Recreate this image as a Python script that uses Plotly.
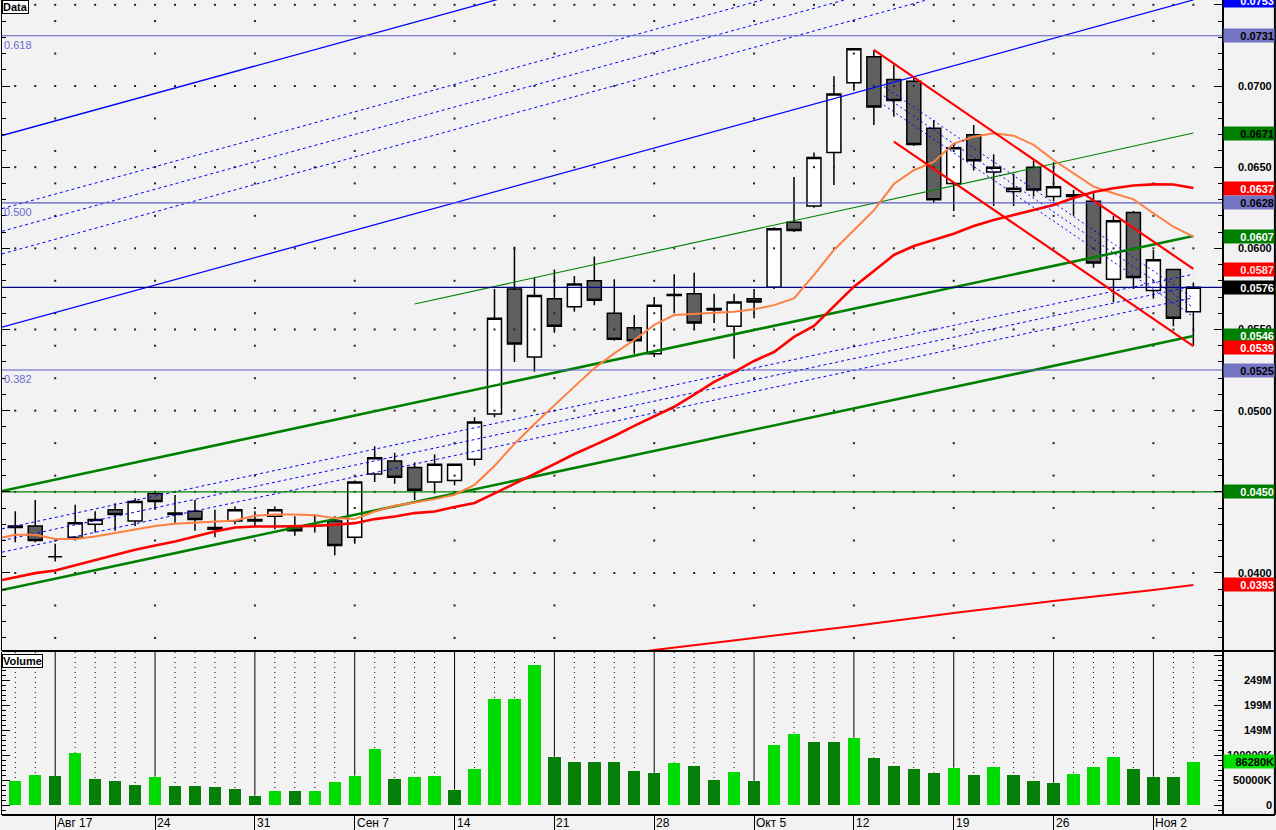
import numpy as np
import plotly.graph_objects as go

# ---------------- data ----------------
opens = [0.0429, 0.0429, 0.0410, 0.0422, 0.0430, 0.0439, 0.0432, 0.0449, 0.0437, 0.0438,
         0.0427, 0.0432, 0.0432, 0.0435, 0.0428, 0.0429, 0.0432, 0.0422, 0.0461, 0.0469,
         0.0465, 0.0456, 0.0457, 0.0470, 0.0498, 0.0575, 0.0533, 0.0569, 0.0564, 0.0580,
         0.0560, 0.0551, 0.0535, 0.05715, 0.0572, 0.0563, 0.0552, 0.0569, 0.0576, 0.0616,
         0.0626, 0.0659, 0.0702, 0.0718, 0.0704, 0.0703, 0.0674, 0.0640, 0.0670, 0.0647,
         0.0635, 0.0650, 0.0632, 0.0633, 0.0629, 0.0581, 0.0622, 0.0574, 0.0587, 0.0561]
highs = [0.0438, 0.0445, 0.0418, 0.0442, 0.0438, 0.0443, 0.0446, 0.0450, 0.0448, 0.0445,
         0.0439, 0.0441, 0.0438, 0.0441, 0.0435, 0.0436, 0.0435, 0.0457, 0.0478, 0.0474,
         0.0468, 0.0473, 0.0467, 0.0496, 0.0575, 0.0601, 0.0582, 0.0587, 0.0583, 0.0595,
         0.0581, 0.0559, 0.0570, 0.0584, 0.0585, 0.0572, 0.0572, 0.0575, 0.0613, 0.0644,
         0.0659, 0.0706, 0.0723, 0.0722, 0.0713, 0.0706, 0.0679, 0.0664, 0.0676, 0.0658,
         0.0646, 0.0654, 0.0653, 0.0636, 0.0634, 0.0620, 0.0623, 0.0599, 0.0587, 0.0579]
lows = [0.0419, 0.0419, 0.0407, 0.0420, 0.0425, 0.0426, 0.0429, 0.0439, 0.0431, 0.0426,
        0.0422, 0.0430, 0.0429, 0.0427, 0.0423, 0.0425, 0.0411, 0.0418, 0.0456, 0.0455,
        0.0445, 0.0449, 0.0454, 0.0466, 0.0496, 0.0530, 0.0524, 0.0548, 0.0561, 0.0565,
        0.0543, 0.0535, 0.0533, 0.0560, 0.0550, 0.0554, 0.0532, 0.0557, 0.0575, 0.0610,
        0.0625, 0.0639, 0.0697, 0.0676, 0.0681, 0.0663, 0.0628, 0.0623, 0.0648, 0.0626,
        0.0626, 0.0632, 0.0629, 0.0620, 0.0588, 0.0567, 0.0575, 0.0569, 0.0552, 0.0540]
closes = [0.0428, 0.0420, 0.0410, 0.0431, 0.0433, 0.0436, 0.0444, 0.0444, 0.0436, 0.0433,
          0.0428, 0.0439, 0.0433, 0.0439, 0.0426, 0.0429, 0.0417, 0.0456, 0.0471, 0.0459,
          0.0451, 0.0467, 0.0467, 0.0493, 0.0557, 0.0541, 0.0571, 0.0552, 0.0578, 0.0568,
          0.0544, 0.0543, 0.0565, 0.0571, 0.0554, 0.0562, 0.0567, 0.0567, 0.0612, 0.0611,
          0.0656, 0.0695, 0.0723, 0.0687, 0.0691, 0.0664, 0.0630, 0.0662, 0.0654, 0.0650,
          0.0637, 0.0636, 0.0638, 0.0632, 0.0591, 0.0617, 0.0582, 0.0593, 0.0557, 0.0576]

volume_m = [48.7, 60.7, 58.0, 104.7, 52.7, 48.7, 40.7, 56.7, 38.7, 38.7,
            36.7, 32.7, 18.7, 28.7, 28.7, 28.7, 46.7, 58.7, 112.7, 52.7,
            56.7, 58.7, 30.7, 72.7, 212.7, 212.7, 280.7, 96.7, 86.7, 86.7,
            86.7, 68.7, 64.7, 84.7, 78.7, 50.7, 66.7, 48.7, 120.7, 142.7,
            126.7, 126.7, 134.7, 94.7, 78.7, 72.7, 64.7, 74.7, 60.7, 76.7,
            60.7, 48.7, 44.7, 62.7, 76.7, 96.7, 72.7, 56.7, 56.7, 86.28]
volume_up = [1, 1, 0, 1, 0, 0, 0, 1, 0, 0, 0, 0, 0, 1, 0, 1, 1, 1, 1, 0,
             1, 1, 0, 1, 1, 1, 1, 0, 0, 0, 0, 0, 0, 1, 0, 0, 1, 0, 1, 1,
             0, 0, 1, 0, 0, 0, 0, 1, 0, 1, 0, 0, 0, 1, 1, 1, 0, 0, 0, 1]

# moving averages: first value is where each line enters at the left edge
ma_x = [-0.665] + list(range(60))
ma_fast = [0.04218,
           0.04235, 0.04235, 0.04209, 0.04209, 0.04225, 0.04246, 0.04266, 0.0429, 0.04303, 0.04311,
           0.04317, 0.04323, 0.04352, 0.0436, 0.0436, 0.04356, 0.04338, 0.04332, 0.04379, 0.04414,
           0.04434, 0.04455, 0.04482, 0.04543, 0.04659, 0.04795, 0.04918, 0.05035, 0.05148, 0.05261,
           0.05353, 0.05435, 0.05528, 0.05589, 0.05596, 0.05599, 0.0561, 0.05624, 0.0565, 0.05692,
           0.05836, 0.0599, 0.06111, 0.06234, 0.06396, 0.06481, 0.06532, 0.06645, 0.06688, 0.06709,
           0.06694, 0.06637, 0.06544, 0.06462, 0.0638, 0.06339, 0.06302, 0.06216, 0.06133, 0.06072]
ma_slow = [0.03957,
           0.03975, 0.03999, 0.04015, 0.04046, 0.04077, 0.04108, 0.04143, 0.04169, 0.04194, 0.04225,
           0.04255, 0.0428, 0.04286, 0.04286, 0.04286, 0.0429, 0.04297, 0.04307, 0.04332, 0.04348,
           0.04369, 0.04379, 0.04406, 0.04431, 0.0449, 0.04548, 0.0461, 0.04671, 0.04733, 0.04788,
           0.04844, 0.04906, 0.04967, 0.05024, 0.05099, 0.05177, 0.05238, 0.05306, 0.05361, 0.05454,
           0.05522, 0.0564, 0.05764, 0.0586, 0.05959, 0.06014, 0.06051, 0.0609, 0.06138, 0.06175,
           0.06205, 0.06236, 0.06267, 0.0631, 0.06347, 0.0637, 0.06387, 0.06394, 0.06393, 0.06372]
ma_long_idx = [31, 32, 37, 42, 47, 52, 57, 59]
ma_long = [0.0351, 0.03526, 0.0360, 0.03673, 0.03754, 0.03827, 0.03895, 0.03926]

week_idx = [2, 7, 12, 17, 22, 27, 32, 37, 42, 47, 52, 57]
week_labels = ["Авг 17", "24", "31", "Сен 7", "14", "21", "28", "Окт 5", "12", "19", "26", "Ноя 2"]

# trend lines: (start index, start price, end index, end price)
blue_lower = (-0.665, 0.05515, 59, 0.0753)
blue_upper_start = 0.06695
green_upper = (-0.665, 0.04505, 59, 0.06076)
green_lower = (-0.665, 0.03895, 59, 0.0546)
green_thin = (20, 0.05657, 59, 0.0671)
red_upper = (43, 0.07222, 59, 0.05873)
red_lower = (44, 0.06657, 59, 0.05398)
red_fib_start = 43.5
fib_ratios = [0.382, 0.5, 0.618]
fib_labels = ["0.382", "0.500", "0.618"]
fib_prices = [0.0525, 0.0628, 0.0731]
last_close = 0.0576
support_level = 0.0450

price_ticks = [0.0700, 0.0650, 0.0600, 0.0550, 0.0500, 0.0400]
vol_ticks = [0, 50, 100, 150, 200, 250]
vol_tick_text = ["0", "50000K", "100000K", "149M", "199M", "249M"]

# right-hand value boxes: (value, background, text colour)
top_box = (0.0753, "#0000ff", "#ffffff")
price_boxes = [
    (0.0731, "#7474c4", "#000000"),
    (0.0671, "#008000", "#000000"),
    (0.0637, "#ff0000", "#ffffff"),
    (0.0628, "#7474c4", "#000000"),
    (0.0607, "#008000", "#ffffff"),
    (0.0587, "#ff0000", "#ffe0e0"),
    (0.0576, "#000000", "#ffffff"),
    (0.0546, "#008000", "#ffffff"),
    (0.0539, "#ff0000", "#ffffff"),
    (0.0525, "#7474c4", "#000000"),
    (0.0450, "#008000", "#ffffff"),
    (0.0393, "#ff0000", "#ffffff"),
]
vol_box = (86.28, "86280K", "#00e000", "#000000")

# ---------------- layout constants ----------------
X0, X1 = -0.665, 60.435
Y0, Y1 = 0.035194, 0.075298
V0, V1 = -20, 306
PRICE_DOM = [0.20123, 1.0]
VOL_DOM = [0.0, 0.2]
BG = "#f2f2f2"
FONT = "Liberation Sans, Arial, sans-serif"

n = len(opens)
idx = list(range(n))

fig = go.Figure()


def line_at(line, t):
    xa, pa, xb, pb = line
    return pa + (pb - pa) * (t - xa) / (xb - xa)


def add_line(xs, ys, color, width, dash="solid"):
    fig.add_trace(go.Scatter(x=xs, y=ys, mode="lines", line=dict(color=color, width=width, dash=dash),
                             hoverinfo="skip", showlegend=False, xaxis="x", yaxis="y"))


# dot grid in the price panel
gx, gy = [], []
for k in range(36, 76):
    lvl = k / 1000
    if k % 5 == 0:
        cols = idx
    elif k % 2 == 0:
        cols = week_idx
    else:
        continue
    gx += list(cols)
    gy += [lvl] * len(cols)
fig.add_trace(go.Scatter(x=gx, y=gy, mode="markers", marker=dict(size=2, color="#222222", symbol="square"),
                         hoverinfo="skip", showlegend=False, xaxis="x", yaxis="y"))

# candles
fig.add_trace(go.Candlestick(
    x=idx, open=opens, high=highs, low=lows, close=closes,
    increasing=dict(line=dict(color="black", width=1.5), fillcolor="white"),
    decreasing=dict(line=dict(color="black", width=1.5), fillcolor="#5f5f5f"),
    whiskerwidth=0, hoverinfo="skip", showlegend=False, xaxis="x", yaxis="y"))

# blue channel
blue_upper = (blue_lower[0], blue_upper_start, blue_lower[2],
              blue_upper_start + (blue_lower[3] - blue_lower[1]))
for ln in (blue_upper, blue_lower):
    add_line([ln[0], ln[2]], [ln[1], ln[3]], "#0000ff", 1.3)
for f in fib_ratios:
    add_line([blue_lower[0], blue_lower[2]],
             [blue_upper[1] + f * (blue_lower[1] - blue_upper[1]),
              blue_upper[3] + f * (blue_lower[3] - blue_upper[3])], "#0000ff", 1, "3px,3px")

# green channel
for f in fib_ratios:
    add_line([green_upper[0], green_upper[2]],
             [green_upper[1] + f * (green_lower[1] - green_upper[1]),
              green_upper[3] + f * (green_lower[3] - green_upper[3])], "#0000ff", 1, "3px,3px")
for ln in (green_upper, green_lower):
    add_line([ln[0], ln[2]], [ln[1], ln[3]], "#008000", 2.6)
add_line([green_thin[0], green_thin[2]], [green_thin[1], green_thin[3]], "#008000", 1.1)

# horizontal levels
for lvl in fib_prices:
    add_line([X0, X1], [lvl, lvl], "#5c5cc8", 1.1)
add_line([X0, X1], [support_level, support_level], "#008000", 1.3)
add_line([X0, X1], [last_close, last_close], "#000080", 1.2)

# moving averages
add_line(ma_long_idx, ma_long, "#ff0000", 2)
add_line(ma_x, ma_fast, "#ff7f40", 2)
add_line(ma_x, ma_slow, "#ff0000", 2.6)

# red down channel
t_end = red_upper[2]
for f in fib_ratios:
    ys = []
    for t in (red_fib_start, t_end):
        u, l = line_at(red_upper, t), line_at(red_lower, t)
        ys.append(u + f * (l - u))
    add_line([red_fib_start, t_end], ys, "#0000ff", 1, "2px,3px")
for ln in (red_upper, red_lower):
    add_line([ln[0], ln[2]], [ln[1], ln[3]], "#ff0000", 2.2)

# volume panel: day guide lines then bars
dx, dy, sx, sy = [], [], [], []
for i in idx:
    if i in week_idx:
        sx += [i, i, None]
        sy += [V1, volume_m[i], None]
    else:
        dx += [i, i, None]
        dy += [V1, volume_m[i], None]
fig.add_trace(go.Scatter(x=dx, y=dy, mode="lines", line=dict(color="black", width=1, dash="1px,4px"),
                         hoverinfo="skip", showlegend=False, xaxis="x", yaxis="y2"))
fig.add_trace(go.Scatter(x=sx, y=sy, mode="lines", line=dict(color="black", width=1),
                         hoverinfo="skip", showlegend=False, xaxis="x", yaxis="y2"))
fig.add_trace(go.Bar(x=idx, y=volume_m, width=0.62,
                     marker=dict(color=["#00dc00" if u else "#067f06" for u in volume_up], line=dict(width=0)),
                     hoverinfo="skip", showlegend=False, xaxis="x", yaxis="y2"))

# ---------------- annotations ----------------
ann = []
bold11 = dict(family=FONT, size=11, color="black", weight="bold")
for v in price_ticks:
    ann.append(dict(x=1, xref="paper", y=v, yref="y", xanchor="right", yanchor="middle", xshift=52,
                    text=f"{v:.4f}", showarrow=False, font=bold11))
for v, t in zip(vol_ticks, vol_tick_text):
    ann.append(dict(x=1, xref="paper", y=v, yref="y2", xanchor="right", yanchor="middle", xshift=52,
                    text=t, showarrow=False, font=bold11))
# top value sits on the upper edge of the panel, half hidden as in the reference
ann.append(dict(x=1, xref="paper", y=1, yref="paper", xanchor="left", yanchor="middle", xshift=1,
                width=50, height=13, borderpad=0, align="right", bgcolor=top_box[1],
                text=f"{top_box[0]:.4f}", showarrow=False,
                font=dict(family=FONT, size=11, color=top_box[2], weight="bold")))
for v, bg, fg in price_boxes:
    ann.append(dict(x=1, xref="paper", y=v, yref="y", xanchor="left", yanchor="middle", xshift=1,
                    width=50, height=13, borderpad=0, align="right", bgcolor=bg,
                    text=f"{v:.4f}", showarrow=False, font=dict(family=FONT, size=11, color=fg, weight="bold")))
ann.append(dict(x=1, xref="paper", y=vol_box[0], yref="y2", xanchor="left", yanchor="middle", xshift=1,
                width=50, height=13, borderpad=0, align="right", bgcolor=vol_box[2],
                text=vol_box[1], showarrow=False, font=dict(family=FONT, size=11, color=vol_box[3], weight="bold")))
for lvl, lab in zip(fib_prices, fib_labels):
    ann.append(dict(x=0, xref="paper", y=lvl, yref="y", xanchor="left", yanchor="top", xshift=0, yshift=-1,
                    text=lab, showarrow=False, font=dict(family=FONT, size=11, color="#6a6ad0")))
for i, lab in zip(week_idx, week_labels):
    ann.append(dict(x=i, xref="x", y=0, yref="paper", xanchor="left", yanchor="top", xshift=0, yshift=1,
                    text=lab, showarrow=False, font=dict(family=FONT, size=12, color="black")))
ann.append(dict(x=0, xref="paper", y=1, yref="paper", xanchor="left", yanchor="top", text="Data",
                showarrow=False, bgcolor="white", bordercolor="black", borderwidth=1, borderpad=0,
                font=bold11))
ann.append(dict(x=0, xref="paper", y=VOL_DOM[1], yref="paper", xanchor="left", yanchor="top", yshift=-2,
                text="Volume", showarrow=False, bgcolor="white", bordercolor="black", borderwidth=1, borderpad=0,
                font=bold11))

R_EDGE = 1 + 53 / 1222
shapes = [
    dict(type="line", xref="paper", yref="paper", x0=0, x1=R_EDGE, y0=PRICE_DOM[0], y1=PRICE_DOM[0],
         line=dict(color="black", width=2)),
    dict(type="line", xref="paper", yref="paper", x0=0, x1=R_EDGE, y0=0, y1=0,
         line=dict(color="black", width=2)),
    dict(type="line", xref="paper", yref="paper", x0=R_EDGE, x1=R_EDGE, y0=0, y1=1,
         line=dict(color="black", width=2)),
]

axis_common = dict(showgrid=False, zeroline=False, showline=True, linecolor="black", linewidth=1.5,
                   mirror="ticks", ticks="inside", tickcolor="black", showticklabels=False, fixedrange=True)

fig.update_layout(
    width=1276, height=830,
    margin=dict(l=0, r=54, t=0, b=15),
    paper_bgcolor=BG, plot_bgcolor=BG,
    hovermode=False, showlegend=False, dragmode=False,
    boxgap=0.3, boxgroupgap=0, bargap=0,
    font=dict(family=FONT, size=11, color="black"),
    xaxis=dict(range=[X0, X1], anchor="y2", showgrid=False, zeroline=False, showline=False,
               tickvals=week_idx, ticks="outside", ticklen=15, tickcolor="black", tickwidth=1,
               showticklabels=False, rangeslider=dict(visible=False), fixedrange=True),
    yaxis=dict(domain=PRICE_DOM, range=[Y0, Y1], side="right", anchor="x",
               tick0=0, dtick=0.005, ticklen=8,
               minor=dict(dtick=0.001, ticklen=4, ticks="inside", tickcolor="black"),
               **axis_common),
    yaxis2=dict(domain=VOL_DOM, range=[V0, V1], side="right", anchor="x",
                tick0=0, dtick=50, ticklen=8,
                minor=dict(dtick=10, ticklen=4, ticks="inside", tickcolor="black"),
                **axis_common),
    annotations=ann,
    shapes=shapes,
)

fig.write_html("out.html", config={"displayModeBar": False, "staticPlot": True},
               post_script="document.body.style.margin='0px';document.body.style.overflow='hidden';")
